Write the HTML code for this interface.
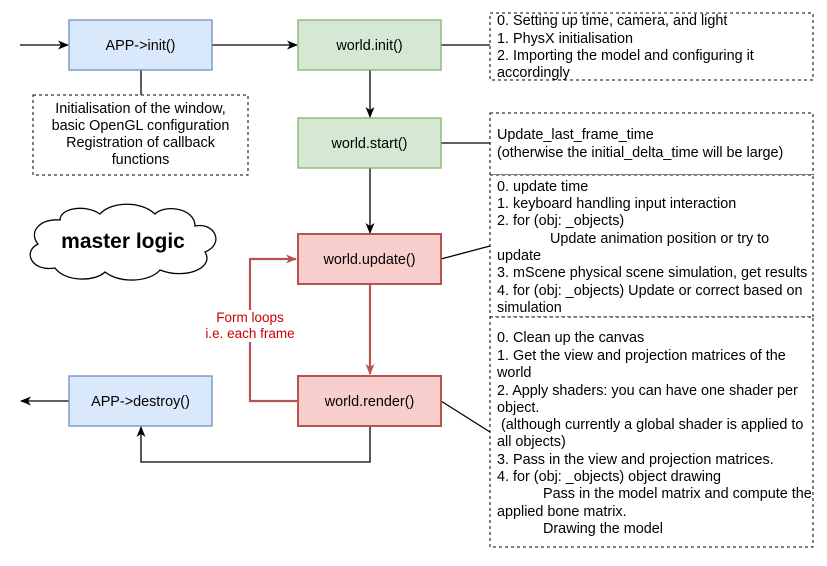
<!DOCTYPE html>
<html><head><style>
body{margin:0;background:#fff;}
svg text{font-family:"Liberation Sans",Arial,sans-serif;font-size:14.4px;fill:#000;}
</style></head><body>
<svg width="827" height="561" viewBox="0 0 827 561" xmlns="http://www.w3.org/2000/svg">
<defs>
<marker id="a" markerWidth="12" markerHeight="12" refX="10" refY="6" orient="auto" markerUnits="userSpaceOnUse"><path d="M0,1.5 L11,6 L0,10.5 L3,6 z" fill="#000"/></marker>
<marker id="r" markerWidth="12" markerHeight="12" refX="10" refY="6" orient="auto" markerUnits="userSpaceOnUse"><path d="M0,1.5 L11,6 L0,10.5 L3,6 z" fill="#b85450"/></marker>
</defs>
<g stroke="#000" stroke-width="1.3" fill="none">
<line x1="20" y1="45" x2="68" y2="45" marker-end="url(#a)"/>
<line x1="212" y1="45" x2="297" y2="45" marker-end="url(#a)"/>
<line x1="370" y1="70" x2="370" y2="117" marker-end="url(#a)"/>
<line x1="370" y1="168" x2="370" y2="233" marker-end="url(#a)"/>
<line x1="141" y1="70" x2="141" y2="95"/>
<line x1="441" y1="45" x2="490" y2="45"/>
<line x1="441" y1="143" x2="490" y2="143"/>
<line x1="441" y1="259" x2="490" y2="246"/>
<line x1="441" y1="401" x2="490" y2="432"/>
<polyline points="370,426 370,462 141,462 141,427" marker-end="url(#a)"/>
<line x1="69" y1="401" x2="21" y2="401" marker-end="url(#a)"/>
</g>
<g stroke="#b85450" stroke-width="2.2" fill="none">
<line x1="370" y1="284" x2="370" y2="374" marker-end="url(#r)"/>
<polyline points="298,401 250,401 250,259 296,259" marker-end="url(#r)"/>
</g>
<rect x="195" y="310" width="110" height="32" fill="#fff"/>
<text x="250" y="322" text-anchor="middle" style="fill:#c00;font-size:13.5px">Form loops</text>
<text x="250" y="338" text-anchor="middle" style="fill:#c00;font-size:13.5px">i.e. each frame</text>
<rect x="69" y="20" width="143" height="50" fill="#dae8fc" stroke="#6c8ebf" stroke-width="1.3"/>
<text x="140.5" y="50" text-anchor="middle">APP-&gt;init()</text>
<rect x="298" y="20" width="143" height="50" fill="#d5e8d4" stroke="#82b366" stroke-width="1.3"/>
<text x="369.5" y="50" text-anchor="middle">world.init()</text>
<rect x="298" y="118" width="143" height="50" fill="#d5e8d4" stroke="#82b366" stroke-width="1.3"/>
<text x="369.5" y="148" text-anchor="middle">world.start()</text>
<rect x="298" y="234" width="143" height="50" fill="#f8cecc" stroke="#b85450" stroke-width="2"/>
<text x="369.5" y="264" text-anchor="middle">world.update()</text>
<rect x="298" y="376" width="143" height="50" fill="#f8cecc" stroke="#b85450" stroke-width="2"/>
<text x="369.5" y="406" text-anchor="middle">world.render()</text>
<rect x="69" y="376" width="143" height="50" fill="#dae8fc" stroke="#6c8ebf" stroke-width="1.3"/>
<text x="140.5" y="406" text-anchor="middle">APP-&gt;destroy()</text>
<rect x="33" y="95" width="215" height="80" fill="#fff" stroke="#000" stroke-dasharray="3,3"/>
<text x="140.5" y="113" text-anchor="middle">Initialisation of the window,</text>
<text x="140.5" y="130" text-anchor="middle">basic OpenGL configuration</text>
<text x="140.5" y="147" text-anchor="middle">Registration of callback</text>
<text x="140.5" y="164" text-anchor="middle">functions</text>
<path d="M60,220 C40,218 28,232 38,244 C22,252 32,272 55,268 C65,282 95,282 105,272 C120,284 150,282 160,270 C185,280 215,268 205,252 C225,244 215,222 195,226 C195,208 165,204 155,214 C140,200 110,202 100,214 C85,204 60,208 60,220 Z" fill="#fff" stroke="#000" stroke-width="1.3"/>
<text x="123" y="248" text-anchor="middle" style="font-size:21px;font-weight:bold">master logic</text>
<g fill="#fff" stroke="#000" stroke-dasharray="3,3">
<rect x="490" y="13" width="323" height="67"/>
<rect x="490" y="113" width="323" height="62"/>
<rect x="490" y="175" width="323" height="142"/>
<rect x="490" y="317" width="323" height="230"/>
</g>
<g>
<text x="497" y="25">0. Setting up time, camera, and light</text>
<text x="497" y="43">1. PhysX initialisation</text>
<text x="497" y="60">2. Importing the model and configuring it</text>
<text x="497" y="77">accordingly</text>
<text x="497" y="139">Update_last_frame_time</text>
<text x="497" y="157">(otherwise the initial_delta_time will be large)</text>
<text x="497" y="191">0. update time</text>
<text x="497" y="208">1. keyboard handling input interaction</text>
<text x="497" y="225">2. for (obj: _objects)</text>
<text x="550" y="243">Update animation position or try to</text>
<text x="497" y="260">update</text>
<text x="497" y="277">3. mScene physical scene simulation, get results</text>
<text x="497" y="295">4. for (obj: _objects) Update or correct based on</text>
<text x="497" y="312">simulation</text>
<text x="497" y="342">0. Clean up the canvas</text>
<text x="497" y="360">1. Get the view and projection matrices of the</text>
<text x="497" y="377">world</text>
<text x="497" y="395">2. Apply shaders: you can have one shader per</text>
<text x="497" y="412">object.</text>
<text x="497" y="429" xml:space="preserve"> (although currently a global shader is applied to</text>
<text x="497" y="446">all objects)</text>
<text x="497" y="464">3. Pass in the view and projection matrices.</text>
<text x="497" y="481">4. for (obj: _objects) object drawing</text>
<text x="543" y="498">Pass in the model matrix and compute the</text>
<text x="497" y="516">applied bone matrix.</text>
<text x="543" y="533">Drawing the model</text>
</g>
</svg>
</body></html>
